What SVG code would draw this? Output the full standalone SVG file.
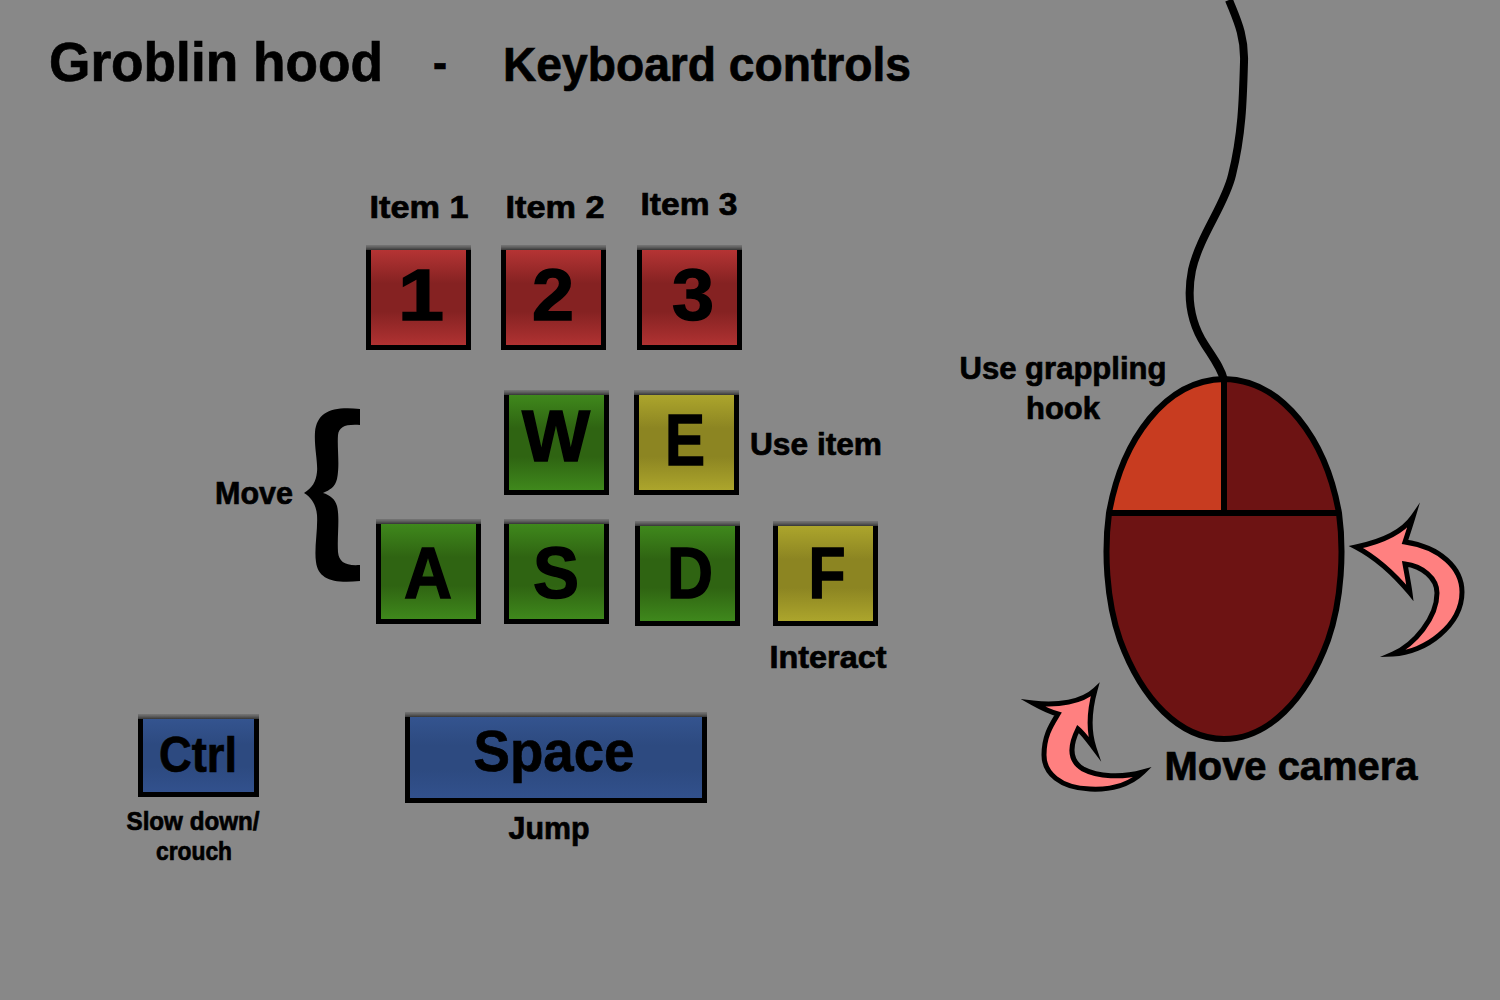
<svg xmlns="http://www.w3.org/2000/svg" width="1500" height="1000" viewBox="0 0 1500 1000">
<style>
text{font-family:"Liberation Sans",Arial,sans-serif;font-weight:700;fill:#000;text-anchor:middle;stroke:#000;stroke-width:.7}
.b{fill:#000}.s{fill:url(#sh)}
.r{fill:url(#red)}.g{fill:url(#green)}.y{fill:url(#yellow)}.u{fill:url(#blue)}
.k{font-size:72px;stroke-width:1.5}.l{font-size:32px}
.m{stroke:#000;stroke-width:6;stroke-linejoin:round}
.ar{fill:#ff8080;stroke:#000;stroke-width:5;stroke-linejoin:miter;stroke-miterlimit:10}
</style>
<defs>
<linearGradient id="sh" x1="0" y1="0" x2="0" y2="1"><stop offset="0" stop-color="#5a5a5a" stop-opacity=".4"/><stop offset="1" stop-color="#222"/></linearGradient>
<linearGradient id="red" x1="0" y1="0" x2="0" y2="1"><stop offset="0" stop-color="#b53434"/><stop offset=".35" stop-color="#852222"/><stop offset=".65" stop-color="#852222"/><stop offset="1" stop-color="#b03232"/></linearGradient>
<linearGradient id="green" x1="0" y1="0" x2="0" y2="1"><stop offset="0" stop-color="#3f881c"/><stop offset=".35" stop-color="#2f6412"/><stop offset=".65" stop-color="#2f6412"/><stop offset="1" stop-color="#3f881c"/></linearGradient>
<linearGradient id="yellow" x1="0" y1="0" x2="0" y2="1"><stop offset="0" stop-color="#aca52c"/><stop offset=".35" stop-color="#8c8522"/><stop offset=".65" stop-color="#8c8522"/><stop offset="1" stop-color="#aca52c"/></linearGradient>
<linearGradient id="blue" x1="0" y1="0" x2="0" y2="1"><stop offset="0" stop-color="#34548f"/><stop offset=".35" stop-color="#2d4a80"/><stop offset=".65" stop-color="#2d4a80"/><stop offset="1" stop-color="#32518d"/></linearGradient>
</defs>
<rect width="1500" height="1000" fill="#888"/>
<g id="titles">
<text x="216" y="81" font-size="56" textLength="334" lengthAdjust="spacingAndGlyphs">Groblin hood</text>
<text x="440" y="79" font-size="48" textLength="14" lengthAdjust="spacingAndGlyphs">-</text>
<text x="707" y="81" font-size="48" textLength="408" lengthAdjust="spacingAndGlyphs">Keyboard controls</text>
</g>
<g id="key-1"><rect class="s" x="366" y="245" width="105" height="6"/><rect class="b" x="366" y="250" width="105" height="100"/><rect class="r" x="371" y="250" width="95" height="95"/><text class="k" x="421" y="320" textLength="46" lengthAdjust="spacingAndGlyphs">1</text></g>
<g id="key-2"><rect class="s" x="501" y="245" width="105" height="6"/><rect class="b" x="501" y="250" width="105" height="100"/><rect class="r" x="506" y="250" width="95" height="95"/><text class="k" x="553" y="320" textLength="42" lengthAdjust="spacingAndGlyphs">2</text></g>
<g id="key-3"><rect class="s" x="637" y="245" width="105" height="6"/><rect class="b" x="637" y="250" width="105" height="100"/><rect class="r" x="642" y="250" width="95" height="95"/><text class="k" x="693" y="320" textLength="42" lengthAdjust="spacingAndGlyphs">3</text></g>
<g id="key-w"><rect class="s" x="504" y="390" width="105" height="6"/><rect class="b" x="504" y="395" width="105" height="100"/><rect class="g" x="509" y="395" width="95" height="95"/><text class="k" x="556" y="461" textLength="68" lengthAdjust="spacingAndGlyphs">W</text></g>
<g id="key-e"><rect class="s" x="634" y="390" width="105" height="6"/><rect class="b" x="634" y="395" width="105" height="100"/><rect class="y" x="639" y="395" width="95" height="95"/><text class="k" x="685" y="465" textLength="40" lengthAdjust="spacingAndGlyphs">E</text></g>
<g id="key-a"><rect class="s" x="376" y="519" width="105" height="6"/><rect class="b" x="376" y="524" width="105" height="100"/><rect class="g" x="381" y="524" width="95" height="95"/><text class="k" x="428" y="598" textLength="48" lengthAdjust="spacingAndGlyphs">A</text></g>
<g id="key-s"><rect class="s" x="504" y="519" width="105" height="6"/><rect class="b" x="504" y="524" width="105" height="100"/><rect class="g" x="509" y="524" width="95" height="95"/><text class="k" x="556" y="598" textLength="46" lengthAdjust="spacingAndGlyphs">S</text></g>
<g id="key-d"><rect class="s" x="635" y="521" width="105" height="6"/><rect class="b" x="635" y="526" width="105" height="100"/><rect class="g" x="640" y="526" width="95" height="95"/><text class="k" x="690" y="598" textLength="46" lengthAdjust="spacingAndGlyphs">D</text></g>
<g id="key-f"><rect class="s" x="773" y="521" width="105" height="6"/><rect class="b" x="773" y="526" width="105" height="100"/><rect class="y" x="778" y="526" width="95" height="95"/><text class="k" x="827" y="598" textLength="37" lengthAdjust="spacingAndGlyphs">F</text></g>
<g id="key-ctrl"><rect class="s" x="138" y="714" width="121" height="6"/><rect class="b" x="138" y="719" width="121" height="78"/><rect class="u" x="143" y="719" width="111" height="73"/><text x="198" y="772" font-size="50" textLength="78" lengthAdjust="spacingAndGlyphs">Ctrl</text></g>
<g id="key-space"><rect class="s" x="405" y="712" width="302" height="6"/><rect class="b" x="405" y="717" width="302" height="86"/><rect class="u" x="410" y="717" width="292" height="81"/><text x="554" y="771" font-size="58" textLength="161" lengthAdjust="spacingAndGlyphs">Space</text></g>
<g id="labels">
<text class="l" x="419" y="218" textLength="99" lengthAdjust="spacingAndGlyphs">Item 1</text>
<text class="l" x="555" y="218" textLength="99" lengthAdjust="spacingAndGlyphs">Item 2</text>
<text class="l" x="689" y="215" textLength="97" lengthAdjust="spacingAndGlyphs">Item 3</text>
<text class="l" x="816" y="455" textLength="132" lengthAdjust="spacingAndGlyphs">Use item</text>
<text class="l" x="254" y="504" textLength="78" lengthAdjust="spacingAndGlyphs">Move</text>
<text class="l" x="828" y="668" textLength="117" lengthAdjust="spacingAndGlyphs">Interact</text>
<text x="193" y="830" font-size="26" textLength="133" lengthAdjust="spacingAndGlyphs">Slow down/</text>
<text x="194" y="860" font-size="26" textLength="76" lengthAdjust="spacingAndGlyphs">crouch</text>
<text class="l" x="549" y="839" textLength="81" lengthAdjust="spacingAndGlyphs">Jump</text>
<text class="l" x="1063" y="379" textLength="207" lengthAdjust="spacingAndGlyphs">Use grappling</text>
<text class="l" x="1063" y="419" textLength="74" lengthAdjust="spacingAndGlyphs">hook</text>
<text x="1291" y="780" font-size="40" textLength="253" lengthAdjust="spacingAndGlyphs">Move camera</text>
</g>
<g id="brace"><path class="b" d="M360 409C332 406 317 412 315 432C314 447 318 462 317 472C316 482 312 488 304 493C312 498 316 505 317 515C318 530 314 548 316 562C318 579 333 584 360 581L360 565C345 566 339 562 338 552C337 535 340 518 337 506C335 499 330 495 323 493C330 490 335 487 337 479C340 465 337 448 338 435C339 427 345 424 360 425Z"/></g>
<g id="mouse">
<path d="M1229 0C1236 18 1245 35 1244 62C1243 100 1242 135 1232 175C1225 205 1200 235 1192 270C1186 300 1192 325 1205 345C1214 359 1221 368 1224 380" fill="none" stroke="#000" stroke-width="8"/>
<path d="M1224 379C1165 380 1122 440 1109 513L1224 513Z" fill="#c83c20"/>
<path d="M1224 379C1283 380 1326 440 1339 513L1224 513Z" fill="#6d1313"/>
<path d="M1109 513C1104 550 1106 600 1120 640C1142 700 1180 739 1224 739C1268 739 1306 700 1328 640C1342 600 1344 550 1339 513Z" fill="#6d1313"/>
<path class="m" fill="none" d="M1224 379C1165 380 1122 440 1109 513C1104 550 1106 600 1120 640C1142 700 1180 739 1224 739C1268 739 1306 700 1328 640C1342 600 1344 550 1339 513C1326 440 1283 380 1224 379Z"/>
<path class="m" stroke-linejoin="miter" fill="none" d="M1108 513H1340M1224 379V513"/>
</g>
<g id="arrows">
<path class="ar" d="M1356 547C1385 541 1404 530 1413 517C1410 527 1407 536 1405 542C1440 547 1462 568 1462 592C1462 625 1425 653 1393 654C1414 645 1437 618 1437 593C1437 578 1422 566 1405 564C1407 575 1409 585 1410 593C1395 575 1377 558 1356 547Z"/>
<path class="ar" d="M1033 703C1058 706 1082 702 1095 690C1090 708 1088 730 1094 748C1088 740 1083 733 1078 729C1070 745 1068 760 1083 769C1098 777 1122 778 1143 772C1130 785 1110 790 1090 789C1060 788 1044 773 1044 755C1044 735 1052 724 1058 714C1050 712 1042 708 1033 703Z"/>
</g>
</svg>
